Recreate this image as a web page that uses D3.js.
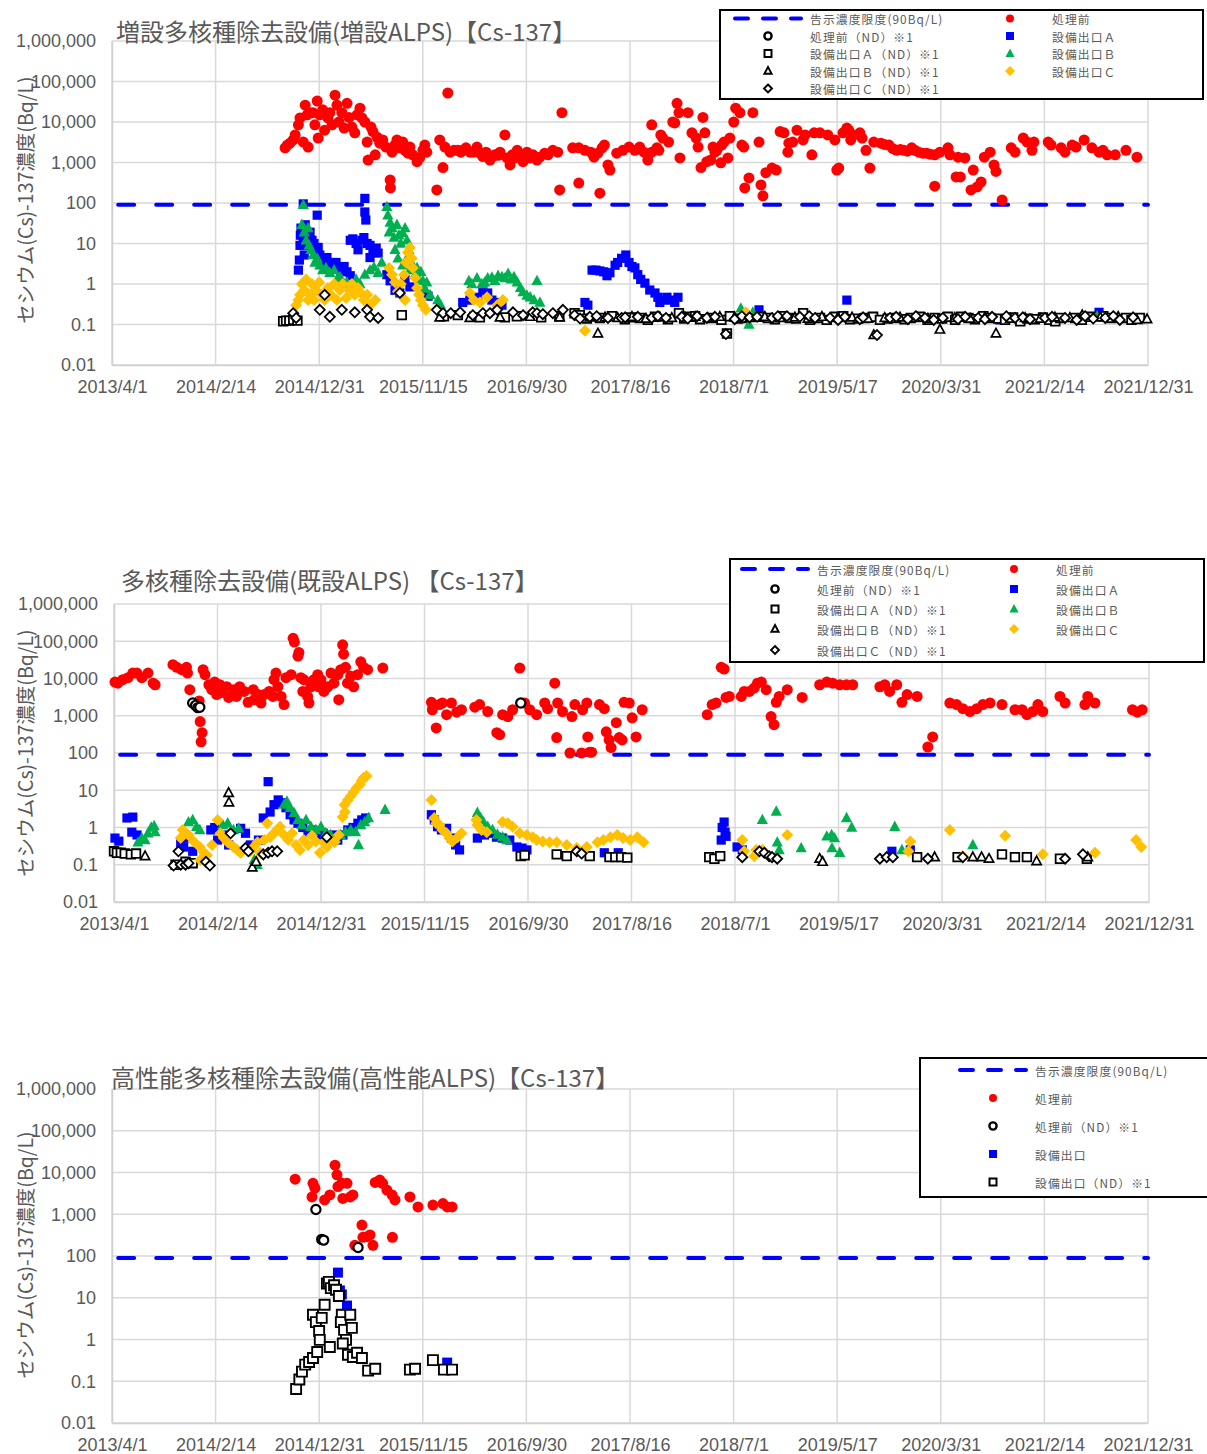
<!DOCTYPE html>
<html><head><meta charset="utf-8">
<script src="https://cdn.jsdelivr.net/npm/d3@7/dist/d3.min.js"></script>
<style>
html,body{margin:0;padding:0;background:#fff;}
svg{display:block;}
</style></head>
<body>
<svg id="chart" width="1207" height="1454"></svg>
<script>
// ================= DATA =================
const xTickLabels = ["2013/4/1","2014/2/14","2014/12/31","2015/11/15","2016/9/30","2017/8/16","2018/7/1","2019/5/17","2020/3/31","2021/2/14","2021/12/31"];
const yTickValues = [0.01,0.1,1,10,100,1000,10000,100000,1000000];
const yTickLabels = ["0.01","0.1","1","10","100","1,000","10,000","100,000","1,000,000"];
const limitValue = 90;
const limitDates = ["2013-04-20","2021-12-31"];
const panelTitles = ["増設多核種除去設備(増設ALPS)【Cs-137】","多核種除去設備(既設ALPS) 【Cs-137】","高性能多核種除去設備(高性能ALPS)【Cs-137】"];
const yAxisTitle = "セシウム(Cs)-137濃度(Bq/L)";
const legendLabelsABC = ["告示濃度限度(90Bq/L)","処理前","処理前（ND）※1","設備出口Ａ","設備出口Ａ（ND）※1","設備出口Ｂ","設備出口Ｂ（ND）※1","設備出口Ｃ","設備出口Ｃ（ND）※1"];
const legendLabelsHP = ["告示濃度限度(90Bq/L)","処理前","処理前（ND）※1","設備出口","設備出口（ND）※1"];

// ---- Panel 1: 増設ALPS ----
const p1Pre = [["2014-09-17",2300],["2014-09-24",2700],["2014-10-02",3000],["2014-10-12",3600],["2014-10-18",4800],["2014-10-28",8500],["2014-11-02",12600],["2014-11-12",3200],["2014-11-18",26000],["2014-11-24",15000],["2014-11-27",2400],["2014-12-03",17000],["2014-12-12",17000],["2014-12-18",8500],["2014-12-25",33000],["2014-12-28",4000],["2015-01-02",15000],["2015-01-11",20000],["2015-01-17",6300],["2015-01-27",12600],["2015-02-02",17000],["2015-02-09",8500],["2015-02-18",46000],["2015-02-24",26000],["2015-03-02",10000],["2015-03-11",17000],["2015-03-18",7100],["2015-03-27",29000],["2015-04-02",13000],["2015-04-11",7500],["2015-04-20",5400],["2015-04-27",15000],["2015-05-06",22000],["2015-05-12",12600],["2015-05-21",10000],["2015-05-28",3200],["2015-05-31",1150],["2015-06-09",7500],["2015-06-15",5800],["2015-06-22",1550],["2015-06-28",4200],["2015-07-06",3000],["2015-07-15",3600],["2015-07-25",2400],["2015-08-07",370],["2015-08-08",235],["2015-08-13",1800],["2015-08-22",2700],["2015-08-28",3600],["2015-09-06",2300],["2015-09-15",3200],["2015-09-22",2000],["2015-10-01",1700],["2015-10-07",2400],["2015-10-16",1550],["2015-10-29",1050],["2015-11-06",1300],["2015-11-16",2000],["2015-11-22",2700],["2015-11-28",1800],["2015-12-29",210],["2016-01-07",3600],["2016-01-17",750],["2016-01-23",2400],["2016-02-01",52000],["2016-02-08",1800],["2016-02-20",2000],["2016-03-03",2000],["2016-03-12",1800],["2016-03-18",2000],["2016-03-28",2300],["2016-04-09",1800],["2016-04-20",1800],["2016-05-01",2400],["2016-05-10",1700],["2016-05-19",1400],["2016-05-29",1800],["2016-06-10",1150],["2016-06-18",1400],["2016-06-25",1550],["2016-07-05",1500],["2016-07-11",1800],["2016-07-26",4800],["2016-08-02",1300],["2016-08-11",870],["2016-08-18",1550],["2016-08-26",1300],["2016-09-02",2000],["2016-09-12",1350],["2016-09-20",1050],["2016-10-02",1800],["2016-10-12",1300],["2016-10-21",1550],["2016-11-02",1150],["2016-11-11",1350],["2016-11-26",1700],["2016-12-06",1550],["2016-12-21",2000],["2017-01-05",1800],["2017-01-11",210],["2017-01-18",17000],["2017-02-20",2300],["2017-03-11",310],["2017-03-11",2300],["2017-03-30",2000],["2017-04-17",1800],["2017-04-27",1350],["2017-05-09",1700],["2017-05-22",2300],["2017-05-29",2700],["2017-05-15",175],["2017-06-09",870],["2017-06-15",650],["2017-07-06",1700],["2017-07-25",2000],["2017-08-13",2400],["2017-08-31",2000],["2017-09-15",2400],["2017-09-28",1800],["2017-10-10",1150],["2017-10-22",1800],["2017-10-22",8500],["2017-11-07",2300],["2017-11-13",2000],["2017-11-19",4800],["2017-11-25",4000],["2017-12-13",3200],["2017-12-26",10000],["2018-01-01",9500],["2018-01-08",29000],["2018-01-14",17000],["2018-01-17",1300],["2018-02-11",17000],["2018-02-23",5400],["2018-03-08",4000],["2018-03-14",2400],["2018-03-23",750],["2018-03-29",13000],["2018-04-04",5400],["2018-04-10",1050],["2018-04-22",1150],["2018-04-29",2400],["2018-05-05",1800],["2018-05-11",2000],["2018-05-23",980],["2018-05-26",2700],["2018-06-02",3200],["2018-06-14",1300],["2018-06-20",4000],["2018-07-02",10000],["2018-07-08",22000],["2018-07-21",17000],["2018-07-27",2700],["2018-08-02",2400],["2018-08-05",235],["2018-08-18",415],["2018-08-30",17000],["2018-09-18",3200],["2018-09-24",280],["2018-09-30",150],["2018-10-09",560],["2018-10-28",730],["2018-11-10",650],["2018-11-22",5800],["2018-12-04",5400],["2018-12-16",1800],["2018-12-19",3000],["2018-12-31",3200],["2019-01-13",6300],["2019-02-01",3600],["2019-02-07",4800],["2019-02-28",1550],["2019-03-07",5400],["2019-03-25",5400],["2019-04-18",4800],["2019-05-10",3600],["2019-05-16",650],["2019-05-22",730],["2019-06-04",5400],["2019-06-16",7100],["2019-06-22",6300],["2019-06-28",3600],["2019-07-07",4800],["2019-07-26",5400],["2019-08-02",4000],["2019-08-14",2000],["2019-08-26",730],["2019-09-07",3200],["2019-09-29",3000],["2019-10-10",2800],["2019-10-24",2700],["2019-11-05",2200],["2019-11-17",2000],["2019-11-28",2100],["2019-12-09",2000],["2019-12-20",1900],["2020-01-02",2300],["2020-01-12",2000],["2020-01-24",1800],["2020-02-05",1700],["2020-02-17",1700],["2020-02-28",1600],["2020-03-13",1550],["2020-03-29",1800],["2020-04-23",2300],["2020-04-29",1550],["2020-05-24",1350],["2020-06-14",1300],["2020-03-13",260],["2020-05-18",440],["2020-05-31",440],["2020-07-10",650],["2020-07-03",210],["2020-07-22",250],["2020-08-03",330],["2020-08-13",1350],["2020-08-31",1800],["2020-09-12",870],["2020-09-18",600],["2020-10-07",118],["2020-11-04",2300],["2020-11-16",1800],["2020-12-11",4000],["2020-12-23",3200],["2021-01-07",2000],["2021-01-13",3200],["2021-02-26",3200],["2021-03-07",2700],["2021-04-07",2300],["2021-04-19",1800],["2021-05-11",2700],["2021-05-23",2400],["2021-06-17",3600],["2021-07-11",2300],["2021-08-02",1800],["2021-08-14",2000],["2021-08-27",1550],["2021-09-21",1550],["2021-10-24",2000],["2021-11-27",1350]];
const p1PreND = [];
const p1A = [["2014-11-12",95],["2014-12-25",50],["2014-10-28",2.2],["2014-10-31",3.9],["2014-11-02",9],["2014-11-03",16],["2014-11-05",24],["2014-11-12",12],["2014-11-15",5.2],["2014-11-18",29],["2014-11-21",19],["2014-11-24",9],["2014-12-03",19],["2014-12-09",12],["2014-12-15",10],["2014-12-21",7],["2014-12-28",8],["2015-01-02",5.2],["2015-01-08",3.9],["2015-01-17",2.9],["2015-01-24",4.5],["2015-02-02",3.4],["2015-02-11",2.9],["2015-02-21",3.4],["2015-02-27",2.5],["2015-03-08",2.2],["2015-03-18",2.7],["2015-03-27",2],["2015-04-06",1.6],["2015-04-06",12],["2015-04-14",13],["2015-04-24",10],["2015-04-30",7],["2015-05-12",12],["2015-05-18",14],["2015-05-28",10],["2015-06-06",9],["2015-06-15",7],["2015-06-25",7.7],["2015-07-01",5.8],["2015-05-21",130],["2015-05-21",60],["2015-05-24",38],["2015-06-06",4.5],["2015-07-28",1.7],["2015-08-07",1.2],["2015-08-22",0.7],["2015-09-06",0.6],["2015-09-22",1.3],["2015-10-07",0.85],["2015-11-16",0.65],["2015-12-02",0.5],["2016-03-18",0.35],["2016-04-09",0.4],["2016-05-04",0.47],["2016-05-19",0.71],["2016-06-03",0.6],["2016-06-16",0.4],["2016-07-02",0.35],["2016-07-17",0.3],["2017-03-30",0.35],["2017-04-08",0.3],["2017-04-21",2.2],["2017-05-03",2.2],["2017-05-15",2.1],["2017-05-27",2],["2017-06-06",1.6],["2017-06-15",1.9],["2017-07-01",2.9],["2017-07-09",3.4],["2017-07-21",4.3],["2017-08-03",5.2],["2017-08-13",3.4],["2017-08-22",2.7],["2017-08-31",2.5],["2017-09-09",1.7],["2017-09-18",1.3],["2017-10-01",1.05],["2017-10-16",0.71],["2017-11-01",0.6],["2017-11-10",0.47],["2017-11-16",0.35],["2017-11-25",0.4],["2017-12-08",0.47],["2017-12-21",0.4],["2018-01-01",0.35],["2018-01-11",0.47],["2018-09-18",0.23],["2019-06-16",0.4],["2020-09-30",0.13],["2021-03-10",0.14],["2021-08-02",0.2]];
const p1AND = [["2014-09-11",0.12],["2014-09-20",0.125],["2014-09-30",0.125],["2014-10-12",0.13],["2014-10-25",0.125],["2015-09-12",0.17],["2016-01-20",0.16],["2016-03-03",0.17],["2016-05-10",0.15],["2016-07-26",0.15],["2016-09-01",0.16],["2016-11-15",0.15],["2017-01-10",0.16],["2017-02-26",0.19],["2017-03-14",0.17],["2017-04-05",0.14],["2017-05-15",0.145],["2017-06-21",0.16],["2017-07-31",0.135],["2017-08-20",0.15],["2017-09-15",0.145],["2017-10-10",0.13],["2017-11-01",0.155],["2017-12-11",0.135],["2018-01-14",0.19],["2018-01-30",0.14],["2018-02-17",0.155],["2018-03-05",0.16],["2018-03-20",0.135],["2018-04-25",0.145],["2018-05-25",0.13],["2018-06-11",0.06],["2018-06-20",0.16],["2018-07-15",0.14],["2018-08-05",0.145],["2018-08-25",0.16],["2018-09-21",0.155],["2018-10-15",0.145],["2018-11-06",0.135],["2018-12-01",0.16],["2018-12-22",0.145],["2019-01-10",0.14],["2019-02-01",0.19],["2019-02-22",0.13],["2019-03-25",0.145],["2019-04-15",0.13],["2019-05-10",0.155],["2019-06-05",0.16],["2019-06-26",0.135],["2019-07-20",0.14],["2019-08-11",0.145],["2019-09-05",0.155],["2019-09-26",0.13],["2019-10-20",0.14],["2019-11-11",0.145],["2019-12-11",0.135],["2019-12-30",0.145],["2020-01-27",0.155],["2020-02-20",0.13],["2020-03-13",0.145],["2020-04-05",0.14],["2020-04-23",0.155],["2020-05-15",0.13],["2020-06-02",0.155],["2020-06-25",0.145],["2020-07-15",0.135],["2020-08-10",0.16],["2020-08-31",0.145],["2020-09-25",0.14],["2020-10-16",0.13],["2020-11-10",0.15],["2020-12-02",0.12],["2020-12-25",0.14],["2021-01-16",0.135],["2021-02-10",0.15],["2021-03-01",0.13],["2021-03-20",0.12],["2021-04-04",0.145],["2021-05-20",0.145],["2021-06-10",0.13],["2021-07-05",0.155],["2021-08-15",0.16],["2021-09-08",0.145],["2021-10-24",0.145],["2021-11-10",0.13],["2021-12-06",0.145]];
const p1B = [["2014-11-12",90],["2014-11-08",29],["2014-11-15",19],["2014-11-21",12],["2014-11-27",24],["2014-11-30",9],["2014-12-06",7],["2014-12-12",5.2],["2014-12-18",3.4],["2014-12-25",4.3],["2015-01-02",2.9],["2015-01-11",2.2],["2015-01-21",2.5],["2015-02-02",1.9],["2015-02-15",2.2],["2015-02-24",1.3],["2015-03-05",1.5],["2015-03-18",1],["2015-03-27",1.1],["2015-04-11",0.85],["2015-04-24",1.3],["2015-05-06",1],["2015-05-21",1.7],["2015-06-06",2.2],["2015-06-18",2.6],["2015-07-01",1.9],["2015-07-12",3.4],["2015-07-28",80],["2015-07-31",50],["2015-08-07",33],["2015-08-13",24],["2015-08-04",19],["2015-08-19",14],["2015-08-28",29],["2015-09-03",16],["2015-09-09",10],["2015-09-15",18],["2015-09-22",24],["2015-09-28",12],["2015-10-04",7],["2015-08-22",7],["2015-08-31",4.3],["2015-09-15",2.9],["2015-09-25",3.9],["2015-10-07",2.2],["2015-10-16",2.9],["2015-10-23",1.7],["2015-10-29",2.5],["2015-11-04",1.3],["2015-11-10",2],["2015-11-16",1.2],["2015-11-22",0.77],["2015-11-28",1.1],["2015-12-08",0.54],["2016-01-01",0.4],["2016-01-10",0.3],["2016-04-06",1.2],["2016-04-15",1],["2016-05-01",1.4],["2016-05-16",1],["2016-05-25",1.1],["2016-06-03",1.4],["2016-06-16",1.45],["2016-06-25",1.2],["2016-07-05",1.6],["2016-07-17",1.5],["2016-07-26",1.4],["2016-08-05",1.8],["2016-08-14",1.3],["2016-08-23",1.5],["2016-09-02",1.1],["2016-09-12",0.8],["2016-09-20",0.63],["2016-10-02",0.52],["2016-10-12",0.47],["2016-10-24",0.4],["2016-11-02",1.2],["2016-11-11",0.35],["2018-07-24",0.25],["2018-08-18",0.1],["2018-08-30",0.2],["2021-07-27",0.16]];
const p1BND = [["2016-01-07",0.15],["2016-04-09",0.145],["2016-07-11",0.15],["2016-10-12",0.155],["2017-01-11",0.15],["2017-04-14",0.15],["2017-05-09",0.06],["2017-05-31",0.15],["2017-07-09",0.145],["2017-08-22",0.155],["2017-10-04",0.14],["2017-11-16",0.15],["2017-12-23",0.145],["2018-02-01",0.15],["2018-03-05",0.155],["2018-04-13",0.145],["2018-05-20",0.155],["2018-07-05",0.15],["2018-08-21",0.145],["2018-10-06",0.155],["2018-11-22",0.145],["2019-01-07",0.15],["2019-02-16",0.14],["2019-03-31",0.155],["2019-05-19",0.145],["2019-07-02",0.15],["2019-08-20",0.14],["2019-09-07",0.055],["2019-10-11",0.145],["2019-11-27",0.15],["2020-01-12",0.145],["2020-02-21",0.14],["2020-03-29",0.075],["2020-05-14",0.145],["2020-06-30",0.14],["2020-08-15",0.15],["2020-09-18",0.06],["2020-11-01",0.14],["2020-12-17",0.145],["2021-02-01",0.14],["2021-03-19",0.15],["2021-05-04",0.145],["2021-06-11",0.17],["2021-08-06",0.15],["2021-09-30",0.155],["2021-11-27",0.13],["2021-12-28",0.135]];
const p1C = [["2014-10-21",0.3],["2014-10-28",0.4],["2014-11-02",0.54],["2014-11-08",1],["2014-11-15",0.71],["2014-11-21",1.3],["2014-11-27",0.4],["2014-12-03",0.54],["2014-12-09",1],["2014-12-15",0.4],["2014-12-21",0.71],["2014-12-31",1.1],["2015-01-08",0.54],["2015-01-17",0.4],["2015-01-27",0.8],["2015-02-05",0.54],["2015-02-15",1],["2015-02-24",0.4],["2015-03-05",0.71],["2015-03-14",1],["2015-03-24",0.45],["2015-04-02",0.71],["2015-04-11",1],["2015-04-20",0.54],["2015-04-30",0.8],["2015-05-09",0.6],["2015-05-18",0.4],["2015-05-28",0.54],["2015-06-06",0.3],["2015-06-22",0.4],["2015-08-04",2.5],["2015-08-13",1.7],["2015-08-22",1.1],["2015-08-31",0.65],["2015-09-09",1],["2015-09-19",1.7],["2015-09-25",3.4],["2015-10-01",6],["2015-10-07",7.8],["2015-10-13",4.3],["2015-10-16",2.5],["2015-10-23",1.4],["2015-10-29",0.8],["2015-11-04",0.54],["2015-11-10",0.4],["2015-11-16",0.3],["2015-11-25",0.23],["2015-09-22",0.4],["2016-04-09",0.6],["2016-04-21",0.4],["2016-05-10",0.35],["2016-06-01",0.47],["2016-07-02",0.3],["2016-07-20",0.4],["2017-03-30",0.07],["2018-08-08",0.2]];
const p1CND = [["2014-10-12",0.19],["2014-10-21",0.145],["2015-01-02",0.23],["2015-01-17",0.54],["2015-02-02",0.155],["2015-03-11",0.23],["2015-04-20",0.2],["2015-05-28",0.23],["2015-06-06",0.155],["2015-07-01",0.145],["2015-09-06",0.6],["2015-12-29",0.23],["2016-01-17",0.19],["2016-02-10",0.19],["2016-03-10",0.2],["2016-04-18",0.17],["2016-05-19",0.19],["2016-06-10",0.19],["2016-07-02",0.23],["2016-08-20",0.2],["2016-09-20",0.17],["2016-10-20",0.2],["2016-11-02",0.19],["2016-11-20",0.18],["2016-12-21",0.19],["2017-01-21",0.23],["2017-02-26",0.17],["2017-03-15",0.14],["2017-04-14",0.155],["2017-05-05",0.16],["2017-06-09",0.145],["2017-07-21",0.145],["2017-08-01",0.15],["2017-09-09",0.155],["2017-10-22",0.145],["2017-11-10",0.16],["2017-12-05",0.145],["2018-01-23",0.155],["2018-02-10",0.14],["2018-03-11",0.16],["2018-04-10",0.145],["2018-05-05",0.155],["2018-06-08",0.058],["2018-07-05",0.135],["2018-07-27",0.16],["2018-08-20",0.15],["2018-09-12",0.155],["2018-10-28",0.145],["2018-11-15",0.16],["2018-12-13",0.16],["2019-01-22",0.155],["2019-02-20",0.16],["2019-03-10",0.145],["2019-04-25",0.145],["2019-05-20",0.13],["2019-06-10",0.155],["2019-07-26",0.135],["2019-08-05",0.15],["2019-09-17",0.055],["2019-10-27",0.145],["2019-11-15",0.155],["2019-12-21",0.135],["2020-01-15",0.16],["2020-02-12",0.145],["2020-03-10",0.13],["2020-04-07",0.145],["2020-05-24",0.135],["2020-06-15",0.155],["2020-07-25",0.145],["2020-08-15",0.135],["2020-09-06",0.155],["2020-10-20",0.16],["2020-11-16",0.145],["2020-12-10",0.15],["2021-01-01",0.135],["2021-02-16",0.145],["2021-03-10",0.155],["2021-04-19",0.145],["2021-05-25",0.13],["2021-06-20",0.16],["2021-07-15",0.14],["2021-08-21",0.145],["2021-09-15",0.16],["2021-10-05",0.13],["2021-11-15",0.15]];

// ---- Panel 2: 既設ALPS ----
const p2Pre = [["2013-04-04",8000],["2013-04-13",7500],["2013-04-28",9300],["2013-05-14",10500],["2013-05-29",14000],["2013-06-11",14000],["2013-06-26",10500],["2013-07-15",14000],["2013-07-31",7500],["2013-08-06",6800],["2013-09-30",23500],["2013-10-12",20000],["2013-10-27",17300],["2013-11-11",20000],["2013-11-14",14000],["2013-11-21",5000],["2013-12-20",2500],["2013-12-23",700],["2013-12-29",350],["2013-12-26",200],["2014-01-01",17300],["2014-01-07",12700],["2014-01-19",6800],["2014-01-28",5000],["2014-02-06",8000],["2014-02-12",3700],["2014-02-22",6800],["2014-02-28",4200],["2014-03-15",6000],["2014-03-21",3100],["2014-04-05",5000],["2014-04-14",3300],["2014-04-24",6000],["2014-05-08",4500],["2014-05-20",2300],["2014-06-05",5000],["2014-06-08",2700],["2014-06-20",3700],["2014-06-29",2200],["2014-07-09",3700],["2014-07-24",4500],["2014-08-05",3300],["2014-08-08",9300],["2014-08-14",14000],["2014-08-20",6000],["2014-08-30",3300],["2014-09-08",2000],["2014-09-14",10500],["2014-09-30",12700],["2014-10-06",120000],["2014-10-10",95000],["2014-10-21",40000],["2014-10-24",50000],["2014-10-30",10500],["2014-11-05",4500],["2014-11-08",9300],["2014-11-20",3300],["2014-11-24",2200],["2014-11-30",6000],["2014-12-09",9300],["2014-12-21",12700],["2014-12-24",6000],["2014-12-31",9300],["2015-01-09",4500],["2015-01-21",6000],["2015-01-31",14000],["2015-02-09",7500],["2015-02-21",12700],["2015-02-24",2700],["2015-03-02",17300],["2015-03-08",80000],["2015-03-11",45000],["2015-03-17",20000],["2015-03-23",7500],["2015-04-02",11500],["2015-04-11",6000],["2015-04-23",12700],["2015-05-03",28000],["2015-05-12",20000],["2015-05-24",17300],["2015-07-10",19000],["2015-12-07",2300],["2015-12-10",1450],["2015-12-22",470],["2016-01-01",2000],["2016-01-10",2200],["2016-01-23",1070],["2016-02-07",2200],["2016-02-23",1250],["2016-03-09",1450],["2016-04-19",1700],["2016-05-04",2000],["2016-05-29",1300],["2016-06-26",350],["2016-07-05",310],["2016-07-14",1070],["2016-07-30",950],["2016-08-14",1450],["2016-09-05",19000],["2016-09-20",2200],["2016-10-06",1450],["2016-10-27",1070],["2016-11-21",2200],["2016-11-30",1550],["2016-12-22",7500],["2016-12-31",2200],["2016-12-28",260],["2017-01-15",1300],["2017-02-07",100],["2017-02-13",950],["2017-02-22",2000],["2017-03-15",100],["2017-03-18",1450],["2017-03-31",2200],["2017-04-03",270],["2017-04-09",105],["2017-04-15",105],["2017-05-09",2000],["2017-05-24",1550],["2017-05-30",370],["2017-06-08",225],["2017-06-14",140],["2017-06-30",650],["2017-07-09",260],["2017-07-18",225],["2017-07-24",2300],["2017-08-09",2200],["2017-08-18",880],["2017-08-30",270],["2017-09-18",1450],["2018-04-07",1070],["2018-04-22",2000],["2018-05-04",2200],["2018-05-20",20000],["2018-05-29",18000],["2018-06-04",3100],["2018-06-14",3300],["2018-07-21",3300],["2018-07-30",4500],["2018-08-15",4500],["2018-08-30",5600],["2018-09-09",7500],["2018-09-21",8000],["2018-10-06",5000],["2018-10-21",950],["2018-10-30",575],["2018-11-06",2300],["2018-11-15",3300],["2018-12-10",5000],["2019-01-25",3100],["2019-03-20",6800],["2019-04-11",8000],["2019-04-29",7500],["2019-05-21",6800],["2019-06-11",6800],["2019-06-30",6800],["2019-09-22",6000],["2019-10-07",6800],["2019-10-22",4500],["2019-11-13",6800],["2019-11-29",2300],["2019-12-15",3700],["2020-01-15",3300],["2020-02-17",145],["2020-03-03",270],["2020-04-25",2200],["2020-05-16",2000],["2020-06-04",1550],["2020-06-26",1300],["2020-07-17",1550],["2020-08-05",2000],["2020-08-27",2200],["2020-10-03",2000],["2020-11-12",1450],["2020-12-04",1450],["2020-12-19",1070],["2021-01-06",1300],["2021-01-22",2000],["2021-02-06",1300],["2021-03-31",3300],["2021-04-16",2200],["2021-06-16",2000],["2021-06-25",3300],["2021-07-17",2200],["2021-11-10",1450],["2021-11-25",1250],["2021-12-10",1450]];
const p2PreND = [["2013-11-30",2200],["2013-12-09",1900],["2013-12-16",1650],["2013-12-22",1700],["2016-09-08",2200]];
const p2A = [["2013-04-04",0.52],["2013-04-16",0.43],["2013-05-11",1.8],["2013-05-29",1.9],["2013-05-26",0.75],["2013-06-11",0.63],["2013-10-24",0.4],["2013-11-02",0.3],["2013-11-14",0.52],["2013-11-30",0.23],["2014-01-25",0.86],["2014-02-06",1.0],["2014-02-15",0.46],["2014-03-03",0.63],["2014-03-21",0.34],["2014-04-27",0.95],["2014-05-12",0.7],["2014-05-27",0.34],["2014-06-21",0.46],["2014-07-06",1.8],["2014-07-21",17],["2014-07-27",2.6],["2014-08-08",4.1],["2014-08-21",5.5],["2014-09-02",4.6],["2014-09-14",3.4],["2014-09-27",2.2],["2014-10-09",1.6],["2014-10-21",1.3],["2014-11-05",1.0],["2014-11-21",0.75],["2014-12-06",0.86],["2014-12-22",0.63],["2015-01-07",0.7],["2015-01-21",0.52],["2015-02-06",0.63],["2015-02-21",0.46],["2015-03-09",0.63],["2015-03-24",0.86],["2015-04-09",1.0],["2015-04-24",1.3],["2015-05-06",1.6],["2015-05-18",1.8],["2015-12-07",2.2],["2015-12-16",1.6],["2015-12-26",1.05],["2016-01-07",0.86],["2016-01-23",0.95],["2016-02-07",0.52],["2016-02-20",0.34],["2016-03-03",0.25],["2016-04-27",0.52],["2016-05-19",0.63],["2016-06-03",0.7],["2016-06-25",0.55],["2016-07-14",0.52],["2016-08-05",0.46],["2016-08-27",0.3],["2016-09-12",0.28],["2016-09-27",0.25],["2017-05-24",0.21],["2017-07-06",0.21],["2018-05-20",0.46],["2018-05-23",1.0],["2018-05-29",1.4],["2018-06-01",0.75],["2018-06-04",0.58],["2018-07-08",0.3],["2018-07-24",0.25],["2019-10-29",0.23],["2019-12-25",0.25]];
const p2AND = [["2013-04-01",0.23],["2013-04-10",0.21],["2013-04-22",0.21],["2013-05-04",0.2],["2013-05-23",0.19],["2013-06-08",0.2],["2013-10-08",0.1],["2013-11-08",0.12],["2013-11-30",0.11],["2016-09-08",0.17],["2016-09-20",0.18],["2016-12-28",0.19],["2017-01-28",0.17],["2017-04-09",0.17],["2017-06-09",0.16],["2017-06-27",0.16],["2017-07-15",0.16],["2017-08-03",0.155],["2018-04-13",0.16],["2018-04-29",0.145],["2018-05-17",0.17],["2020-01-15",0.16],["2020-05-19",0.16],["2020-10-03",0.19],["2020-11-12",0.16],["2020-12-19",0.16],["2021-03-31",0.145],["2021-06-22",0.145]];
const p2B = [["2013-06-14",0.4],["2013-06-26",0.52],["2013-07-06",0.46],["2013-07-15",0.7],["2013-07-25",1.0],["2013-08-03",1.1],["2013-08-06",0.75],["2013-11-17",1.4],["2013-11-30",1.6],["2013-12-12",1.05],["2013-12-22",0.86],["2014-03-03",1.17],["2014-03-18",1.3],["2014-04-05",0.86],["2014-04-21",0.95],["2014-06-08",0.135],["2014-06-17",0.1],["2014-09-08",4.1],["2014-09-17",5],["2014-09-27",3.4],["2014-10-09",2.5],["2014-10-21",1.6],["2014-11-02",1.17],["2014-11-15",1.6],["2014-11-30",1.05],["2014-12-15",0.86],["2014-12-31",1.05],["2015-01-15",0.7],["2015-01-30",0.63],["2015-02-14",0.52],["2015-03-02",0.63],["2015-03-17",0.75],["2015-04-02",0.86],["2015-04-17",0.75],["2015-04-26",0.34],["2015-05-03",1.17],["2015-05-15",1.4],["2015-05-27",1.8],["2015-07-17",3],["2016-04-27",2.5],["2016-05-07",1.8],["2016-05-16",1.4],["2016-05-29",1.05],["2016-06-13",0.86],["2016-06-28",0.65],["2016-07-14",0.55],["2016-07-27",0.46],["2018-09-24",1.6],["2018-11-06",2.7],["2018-11-09",0.4],["2018-11-15",0.25],["2019-01-22",0.28],["2019-04-11",0.58],["2019-04-26",0.63],["2019-05-05",0.52],["2019-04-27",0.28],["2019-05-21",0.21],["2019-06-11",1.8],["2019-06-27",1.0],["2019-11-07",1.05],["2019-11-29",0.25],["2020-07-05",0.34]];
const p2BND = [["2013-07-06",0.17],["2014-03-21",8.5],["2014-03-22",4.7],["2014-06-02",0.085],["2014-06-14",0.12],["2019-03-20",0.145],["2019-03-29",0.12],["2020-03-09",0.16],["2020-07-05",0.16],["2020-08-01",0.16],["2020-08-24",0.145],["2021-01-18",0.125],["2021-06-25",0.16]];
const p2C = [["2013-10-30",0.86],["2013-10-24",0.52],["2013-11-17",0.63],["2013-12-03",0.42],["2013-12-22",0.3],["2013-12-23",0.135],["2014-01-04",0.21],["2014-01-13",0.18],["2014-01-29",0.34],["2014-02-15",1.6],["2014-02-24",0.7],["2014-03-06",0.52],["2014-03-18",0.4],["2014-04-05",0.3],["2014-04-17",0.25],["2014-04-27",0.21],["2014-05-12",0.28],["2014-05-27",0.23],["2014-06-06",0.3],["2014-06-18",0.4],["2014-06-27",0.21],["2014-07-09",0.46],["2014-07-18",1.3],["2014-07-27",0.55],["2014-08-08",0.7],["2014-08-18",0.86],["2014-08-27",1.05],["2014-09-08",0.63],["2014-09-21",0.46],["2014-10-03",0.7],["2014-10-15",0.34],["2014-10-27",0.25],["2014-11-08",0.46],["2014-11-21",0.34],["2014-12-03",0.6],["2014-12-15",0.42],["2014-12-28",0.21],["2015-01-09",0.4],["2015-01-18",0.3],["2015-01-30",0.46],["2015-02-11",0.4],["2015-02-24",0.63],["2015-03-08",1.9],["2015-03-14",4.1],["2015-03-24",5.5],["2015-04-02",7],["2015-04-11",9],["2015-04-20",11.5],["2015-04-30",14],["2015-05-06",18],["2015-05-12",21.5],["2015-05-21",24],["2015-03-15",2.6],["2015-12-07",5.5],["2015-12-16",1.8],["2015-12-22",1.3],["2016-01-01",1.17],["2016-01-10",0.86],["2016-01-23",0.7],["2016-02-01",0.52],["2016-02-10",0.42],["2016-02-26",0.55],["2016-03-09",0.7],["2016-04-24",1.6],["2016-04-27",1.17],["2016-05-10",0.86],["2016-05-26",0.75],["2016-07-14",1.4],["2016-07-30",1.3],["2016-08-14",1.05],["2016-09-05",0.7],["2016-09-27",0.63],["2016-10-15",0.55],["2016-10-27",0.46],["2016-11-15",0.42],["2016-12-06",0.4],["2016-12-28",0.4],["2017-01-28",0.34],["2017-02-28",0.28],["2017-03-31",0.3],["2017-05-03",0.4],["2017-05-21",0.46],["2017-06-12",0.55],["2017-07-03",0.63],["2017-07-21",0.52],["2017-08-12",0.46],["2017-09-03",0.55],["2017-09-22",0.4],["2018-07-24",0.46],["2018-07-30",0.23],["2018-08-30",0.17],["2018-09-05",0.25],["2018-09-24",0.25],["2018-12-10",0.63],["2019-12-25",0.42],["2019-12-19",0.23],["2020-04-25",0.86],["2020-06-04",0.17],["2020-10-13",0.6],["2021-02-06",0.19],["2021-07-17",0.21],["2021-11-21",0.46],["2021-12-07",0.3]];
const p2CND = [["2013-10-17",0.23],["2013-10-02",0.095],["2013-10-24",0.1],["2013-11-08",0.1],["2013-11-17",0.11],["2014-01-10",0.12],["2014-01-22",0.095],["2014-03-27",0.7],["2014-05-12",0.28],["2014-05-21",0.23],["2014-07-06",0.19],["2014-07-21",0.21],["2014-08-02",0.23],["2014-08-18",0.23],["2015-01-18",0.55],["2017-02-28",0.23],["2017-03-15",0.2],["2018-07-24",0.16],["2018-09-15",0.23],["2018-09-30",0.21],["2018-10-15",0.17],["2018-10-24",0.16],["2018-11-09",0.145],["2019-09-22",0.145],["2019-10-13",0.16],["2019-11-01",0.16],["2020-02-17",0.145],["2020-06-04",0.16],["2021-04-16",0.145],["2021-06-10",0.19]];

// ---- Panel 3: 高性能ALPS ----
const p3Pre = [["2014-10-18",6900],["2014-12-09",2600],["2014-12-12",5500],["2014-12-18",4200],["2015-01-17",2200],["2015-02-02",2900],["2015-02-18",15000],["2015-02-24",8800],["2015-02-27",4600],["2015-03-11",5500],["2015-03-14",2400],["2015-03-27",5500],["2015-04-06",2600],["2015-04-14",2900],["2015-04-20",180],["2015-05-12",550],["2015-05-15",280],["2015-05-28",290],["2015-06-06",320],["2015-06-15",180],["2015-06-22",5800],["2015-07-06",6600],["2015-07-15",5500],["2015-07-28",3800],["2015-08-13",2900],["2015-08-22",2200],["2015-08-14",280],["2015-10-07",2600],["2015-11-01",1500],["2015-12-17",1660],["2016-01-17",1800],["2016-01-30",1500],["2016-02-14",1500]];
const p3PreND = [["2014-12-21",1300],["2015-01-08",250],["2015-01-14",240],["2015-04-30",160]];
const p3Out = [["2015-02-27",40],["2015-03-27",6.5],["2015-03-11",12],["2016-01-30",0.28],["2015-02-02",22],["2015-03-05",15]];
const p3OutND = [["2014-10-21",0.065],["2014-10-31",0.11],["2014-11-08",0.17],["2014-11-18",0.25],["2014-11-30",0.29],["2014-12-12",0.36],["2014-12-25",0.5],["2014-12-12",3.9],["2014-12-21",2.6],["2014-12-31",1.6],["2015-01-08",3.3],["2015-01-17",6.8],["2015-01-24",22],["2015-01-30",24],["2015-02-05",17],["2015-02-15",20],["2015-02-21",15.5],["2015-03-02",11],["2015-03-11",3.9],["2015-03-08",2.6],["2015-03-18",1.7],["2015-03-24",0.98],["2015-03-30",0.43],["2015-04-11",1.9],["2015-04-06",3.9],["2015-04-14",0.38],["2015-04-27",0.48],["2015-05-12",0.36],["2015-05-31",0.18],["2015-06-22",0.2],["2015-01-02",0.98],["2015-02-02",0.66],["2015-03-14",0.8],["2015-10-07",0.19],["2015-10-23",0.2],["2015-12-17",0.32],["2016-01-20",0.19],["2016-02-14",0.19]];

// ================= RENDER =================
const parse = d3.timeParse("%Y-%m-%d");
const xStart = parse("2013-04-01"), xEnd = parse("2021-12-31");
const svg = d3.select("#chart");
const TXT = "#595959";
const CJK = "'Noto Sans CJK JP','Noto Sans',sans-serif";
const LAT = "'Liberation Sans',Arial,sans-serif";

function shapePath(shape, s){
  if(shape==="circle") return `M${s},0A${s},${s} 0 1,1 ${-s},0A${s},${s} 0 1,1 ${s},0Z`;
  if(shape==="square") return `M${-s},${-s}H${s}V${s}H${-s}Z`;
  if(shape==="diamond") return `M0,${-s}L${s},0L0,${s}L${-s},0Z`;
  if(shape==="triangle") return `M0,${-s*1.1}L${s},${s*0.75}L${-s},${s*0.75}Z`;
}
const styles = {
  pre:   {shape:"circle",  s:5.5, fill:"#FF0000", stroke:"none", sw:0},
  preND: {shape:"circle",  s:4.6, fill:"#FFFFFF", stroke:"#000", sw:2.2},
  A:     {shape:"square",  s:4.6, fill:"#0000FF", stroke:"none", sw:0},
  AND:   {shape:"square",  s:4.3, fill:"#FFFFFF", stroke:"#000", sw:1.8},
  B:     {shape:"triangle",s:5.6, fill:"#00B050", stroke:"none", sw:0},
  BND:   {shape:"triangle",s:4.6, fill:"#FFFFFF", stroke:"#000", sw:1.7},
  C:     {shape:"diamond", s:6.0, fill:"#FFC000", stroke:"none", sw:0},
  CND:   {shape:"diamond", s:5.0, fill:"#FFFFFF", stroke:"#000", sw:1.8},
  HPout: {shape:"square",  s:5.0, fill:"#0000FF", stroke:"none", sw:0},
  HPoutND:{shape:"square", s:5.0, fill:"#FFFFFF", stroke:"#000", sw:1.9}
};
const legendStyles = {
  pre:{shape:"circle",s:4,fill:"#FF0000",stroke:"none",sw:0},
  preND:{shape:"circle",s:3.6,fill:"#fff",stroke:"#000",sw:2.4},
  A:{shape:"square",s:4,fill:"#0000FF",stroke:"none",sw:0},
  AND:{shape:"square",s:3.5,fill:"#fff",stroke:"#000",sw:2},
  B:{shape:"triangle",s:4.5,fill:"#00B050",stroke:"none",sw:0},
  BND:{shape:"triangle",s:3.6,fill:"#fff",stroke:"#000",sw:1.9},
  C:{shape:"diamond",s:5,fill:"#FFC000",stroke:"none",sw:0},
  CND:{shape:"diamond",s:4,fill:"#fff",stroke:"#000",sw:1.9},
  HPout:{shape:"square",s:4,fill:"#0000FF",stroke:"none",sw:0},
  HPoutND:{shape:"square",s:3.5,fill:"#fff",stroke:"#000",sw:2}
};

function drawPanel(cfg){
  const g = svg.append("g");
  const x = d3.scaleTime().domain([xStart,xEnd]).range([cfg.left,cfg.right]);
  const y = d3.scaleLog().domain([0.01,1e6]).range([cfg.bottom,cfg.top]);
  const n = xTickLabels.length;
  const tickDates = d3.range(n).map(i => new Date(+xStart + i*(xEnd-xStart)/(n-1)));

  g.append("g").selectAll("line").data(yTickValues).join("line")
    .attr("x1",cfg.left).attr("x2",cfg.right)
    .attr("y1",d=>y(d)).attr("y2",d=>y(d))
    .attr("stroke","#d9d9d9").attr("stroke-width",1.5);
  g.append("g").selectAll("line").data(tickDates).join("line")
    .attr("x1",d=>x(d)).attr("x2",d=>x(d))
    .attr("y1",cfg.top).attr("y2",cfg.bottom)
    .attr("stroke","#d9d9d9").attr("stroke-width",1.5);

  const xa = g.append("g").attr("transform",`translate(0,${cfg.bottom})`)
    .call(d3.axisBottom(x).tickValues(tickDates).tickFormat((d,i)=>xTickLabels[i]).tickSize(0).tickPadding(15));
  xa.select(".domain").attr("stroke","#d0d0d0").attr("stroke-width",1.5);
  xa.selectAll("text").attr("fill",TXT).style("font-family",LAT).style("font-size","18px");
  const ya = g.append("g").attr("transform",`translate(${cfg.left},0)`)
    .call(d3.axisLeft(y).tickValues(yTickValues).tickFormat((d,i)=>yTickLabels[i]).tickSize(0).tickPadding(16));
  ya.select(".domain").attr("stroke","#d0d0d0").attr("stroke-width",1.5);
  ya.selectAll("text").attr("fill",TXT).style("font-family",LAT).style("font-size","18px");

  g.append("text").attr("x",cfg.titleX).attr("y",cfg.titleY)
    .attr("fill",TXT).style("font-family",CJK).style("font-size","24px").text(cfg.title);
  g.append("text").attr("transform",`translate(${cfg.yTitleX},${cfg.yTitleY}) rotate(-90)`)
    .attr("text-anchor","middle").attr("dominant-baseline","central")
    .attr("fill",TXT).style("font-family",CJK).style("font-size","19.5px").text(yAxisTitle);

  g.append("line")
    .attr("x1",x(parse(limitDates[0]))).attr("x2",x(parse(limitDates[1])))
    .attr("y1",y(limitValue)).attr("y2",y(limitValue))
    .attr("stroke","#0000FF").attr("stroke-width",4).attr("stroke-dasharray","16,22").attr("stroke-linecap","round");

  cfg.series.forEach(sr => {
    const st = styles[sr.style];
    g.append("g").selectAll("path").data(sr.data).join("path")
      .attr("d", shapePath(st.shape, st.s))
      .attr("transform", d => `translate(${x(parse(d[0]))},${y(d[1])})`)
      .attr("fill", st.fill).attr("stroke", st.stroke).attr("stroke-width", st.sw);
  });

  const L = cfg.legend;
  const lg = svg.append("g");
  lg.append("rect").attr("x",L.x).attr("y",L.y).attr("width",L.w).attr("height",L.h)
    .attr("fill","#fff").attr("stroke","#000").attr("stroke-width",2);
  L.items.forEach((it,i) => {
    const cx = L.symX[it.col], ty = L.rows[it.row];
    if(it.key==="line"){
      lg.append("line").attr("x1",L.lineX[0]+2).attr("x2",L.lineX[1]-2).attr("y1",ty).attr("y2",ty)
        .attr("stroke","#0000FF").attr("stroke-width",4).attr("stroke-dasharray","13,15").attr("stroke-linecap","round");
    } else {
      const st = legendStyles[it.key];
      lg.append("path").attr("d",shapePath(st.shape,st.s)).attr("transform",`translate(${cx},${ty})`)
        .attr("fill",st.fill).attr("stroke",st.stroke).attr("stroke-width",st.sw);
    }
    lg.append("text").attr("x",L.textX[it.col]).attr("y",ty).attr("dominant-baseline","central")
      .attr("fill",TXT).style("font-family",CJK).style("font-size","11.8px").style("letter-spacing","1.1px").text(it.label);
  });
}

const abcKeys = ["line","pre","preND","A","AND","B","BND","C","CND"];
const abcItems = abcKeys.map((k,i)=>({key:k,label:legendLabelsABC[i],row:Math.floor(i/2),col:i%2}));
const hpKeys = ["line","pre","preND","HPout","HPoutND"];
const hpItems = hpKeys.map((k,i)=>({key:k,label:legendLabelsHP[i],row:i,col:0}));

drawPanel({left:112,right:1148,top:41,bottom:365,title:panelTitles[0],titleX:116,titleY:41,yTitleX:24,yTitleY:200,
  series:[{style:"pre",data:p1Pre},{style:"preND",data:p1PreND},{style:"A",data:p1A},{style:"AND",data:p1AND},{style:"B",data:p1B},{style:"BND",data:p1BND},{style:"C",data:p1C},{style:"CND",data:p1CND}],
  legend:{x:720,y:10,w:483,h:89,rows:[18.5,36,53.5,71,88.5],symX:[768,1010],textX:[810,1052],lineX:[733,803],items:abcItems}});
drawPanel({left:114,right:1149,top:604,bottom:902,title:panelTitles[1],titleX:121,titleY:590,yTitleX:24,yTitleY:753,
  series:[{style:"pre",data:p2Pre},{style:"preND",data:p2PreND},{style:"A",data:p2A},{style:"AND",data:p2AND},{style:"B",data:p2B},{style:"BND",data:p2BND},{style:"C",data:p2C},{style:"CND",data:p2CND}],
  legend:{x:730,y:559,w:474,h:103,rows:[569,589,609,629,650],symX:[775,1014],textX:[817,1056],lineX:[740,810],items:abcItems}});
drawPanel({left:112,right:1148,top:1089,bottom:1423,title:panelTitles[2],titleX:111,titleY:1087,yTitleX:24,yTitleY:1255,
  series:[{style:"pre",data:p3Pre},{style:"preND",data:p3PreND},{style:"HPout",data:p3Out},{style:"HPoutND",data:p3OutND}],
  legend:{x:920,y:1058,w:295,h:139,rows:[1070,1098,1126,1154,1182],symX:[993],textX:[1035],lineX:[958,1028],items:hpItems}});
</script>
</body></html>
